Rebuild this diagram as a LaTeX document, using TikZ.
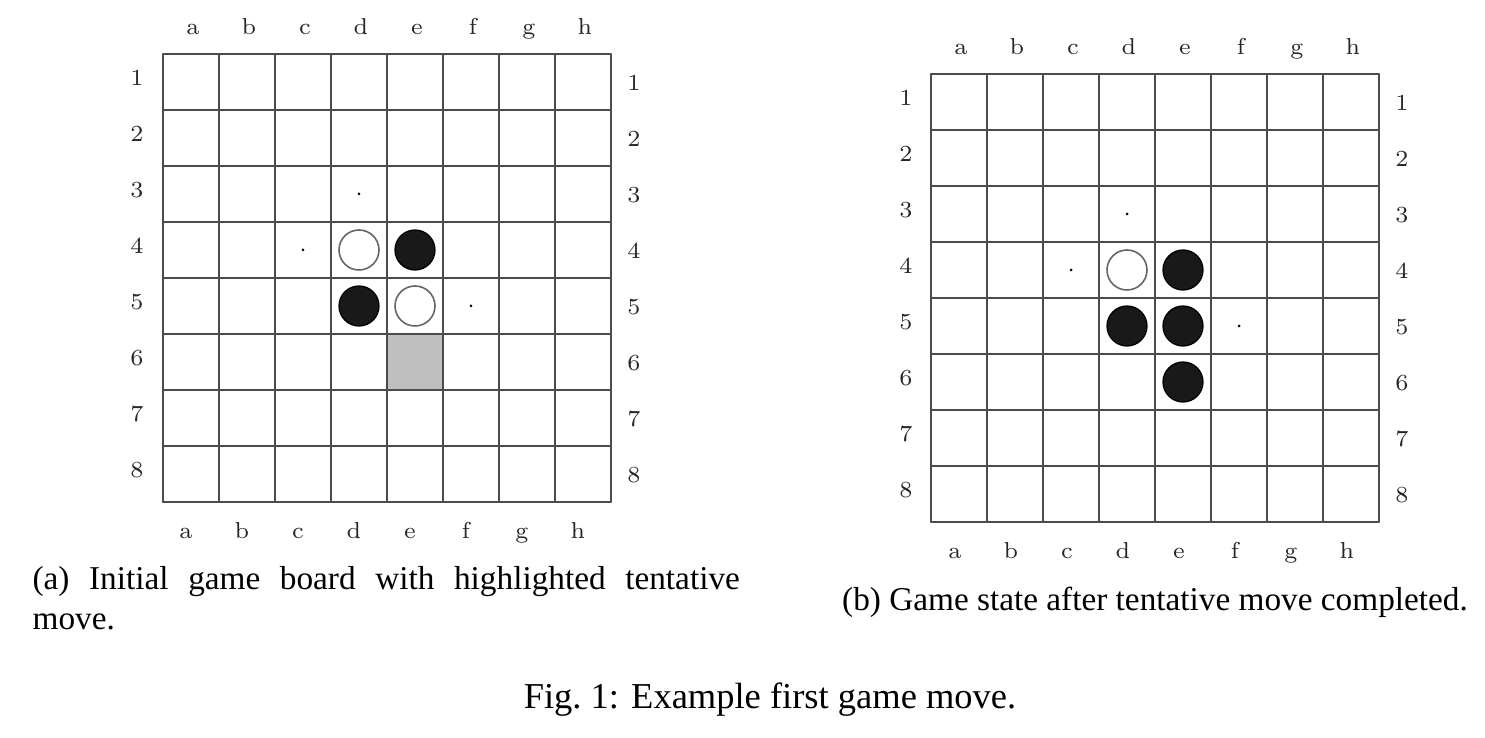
\documentclass[tikz,border=0pt]{standalone}
\usepackage{fontspec}
\setmainfont{Liberation Serif}
\newfontfamily\boardfont{Latin Modern Roman}
\begin{document}
\begin{tikzpicture}[x=0.3125pt,y=-0.3125pt,line join=round,line cap=round,
		gridline/.style={draw=black!70,line width=0.45pt},
		coord/.style={font=\boardfont\fontsize{7.2}{8}\selectfont,inner sep=0pt,anchor=base,text=black!85},
		whitepiece/.style={draw=black!60,line width=0.5pt,fill=white},
		blackpiece/.style={fill=black!90},
		capt/.style={font=\fontsize{10.4}{12.5}\selectfont,inner sep=0pt}]
			\useasboundingbox (0,0) rectangle (1485,738);
			% board (a)
			\fill[black!25] (387,334) rectangle (443,390);
			\foreach \i in {0,...,8} {
				\draw[gridline] (163+56*\i,54) -- (163+56*\i,502);
				\draw[gridline] (163,54+56*\i) -- (611,54+56*\i);
			}
			\foreach \c/\l in {1/a,2/b,3/c,4/d,5/e,6/f,7/g,8/h} {
				\node[coord] (ta-\l) at (56*\c+137,35) {\l};
				\node[coord] (ba-\l) at (56*\c+130,539) {\l};
			}
			\foreach \r in {1,...,8} {
				\node[coord] (la-\r) at (137,56*\r+30) {\r};
				\node[coord] (ra-\r) at (634,56*\r+35) {\r};
			}
			\filldraw[whitepiece] (359,250) circle (20);
			\filldraw[blackpiece] (415,250) circle (20);
			\filldraw[blackpiece] (359,306) circle (20);
			\filldraw[whitepiece] (415,306) circle (20);
			\fill (359,194) circle (1.5);
			\fill (303,250) circle (1.5);
			\fill (471,306) circle (1.5);
			% board (b)
			\foreach \i in {0,...,8} {
				\draw[gridline] (931+56*\i,74) -- (931+56*\i,522);
				\draw[gridline] (931,74+56*\i) -- (1379,74+56*\i);
			}
			\foreach \c/\l in {1/a,2/b,3/c,4/d,5/e,6/f,7/g,8/h} {
				\node[coord] (tb-\l) at (56*\c+905,55) {\l};
				\node[coord] (bb-\l) at (56*\c+899,559) {\l};
			}
			\foreach \r in {1,...,8} {
				\node[coord] (lb-\r) at (906,56*\r+50) {\r};
				\node[coord] (rb-\r) at (1402,56*\r+55) {\r};
			}
			\filldraw[whitepiece] (1127,270) circle (20);
			\filldraw[blackpiece] (1183,270) circle (20);
			\filldraw[blackpiece] (1127,326) circle (20);
			\filldraw[blackpiece] (1183,326) circle (20);
			\filldraw[blackpiece] (1183,382) circle (20);
			\fill (1127,214) circle (1.5);
			\fill (1071,270) circle (1.5);
			\fill (1239,326) circle (1.5);
			% captions
			\node[capt,anchor=north west,text width=221pt,align=justify] (capa) at (32,566)
				{(a) Initial game board with highlighted tentative\linebreak move.};
			\node[capt] (capb) at (1155,602) {(b) Game state after tentative move completed.};
			\node[font=\fontsize{11.4}{13}\selectfont,inner sep=0pt] (capfig) at (770,700) {Fig.~1: Example first game move.};
		\end{tikzpicture}
\end{document}
